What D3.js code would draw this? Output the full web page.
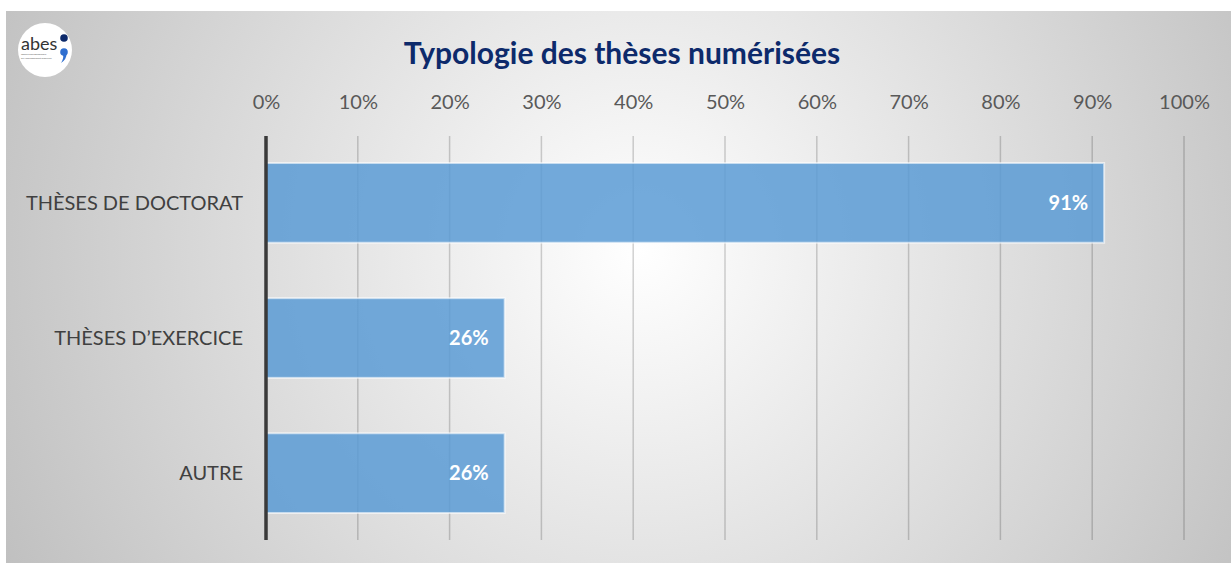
<!DOCTYPE html>
<html>
<head>
<meta charset="utf-8">
<script src="https://cdn.jsdelivr.net/npm/d3@7"></script>
<style>
  html, body { margin: 0; padding: 0; background: #fff; }
  svg text { font-family: Lato, "Open Sans", sans-serif; }
</style>
</head>
<body>
<div id="viz"></div>
<script>
(function() {

    var width = 1231;
    var height = 563;

    // data
    var categories = ["THÈSES DE DOCTORAT", "THÈSES D’EXERCICE", "AUTRE"];
    var values = [0.913, 0.26, 0.26];
    var valueLabels = ["91%", "26%", "26%"];
    var tickValues = [0, 0.1, 0.2, 0.3, 0.4, 0.5, 0.6, 0.7, 0.8, 0.9, 1];
    var title = "Typologie des thèses numérisées";

    var svg = d3.select("#viz")
        .append("svg")
        .attr("width", width)
        .attr("height", height);

    // background gradient
    var defs = svg.append("defs");
    var grad = defs.append("radialGradient")
        .attr("id", "bg")
        .attr("gradientUnits", "userSpaceOnUse")
        .attr("cx", 640).attr("cy", 250).attr("r", 720);
    grad.append("stop").attr("offset", "0%").attr("stop-color", "#ffffff");
    grad.append("stop").attr("offset", "100%").attr("stop-color", "#bfbfbf");

    svg.append("rect")
        .attr("x", 6).attr("y", 11)
        .attr("width", width - 6).attr("height", height - 11)
        .attr("fill", "url(#bg)");

    var margin = {top: 136, left: 266, right: 47, bottom: 23};

    var x = d3.scaleLinear()
        .domain([0, 1])
        .range([margin.left, width - margin.right]);

    var y = d3.scaleBand()
        .domain(categories)
        .range([margin.top, height - margin.bottom])
        .paddingInner(0.41)
        .paddingOuter(0.2);

    // gridlines
    svg.append("g")
        .selectAll("line")
        .data(tickValues.slice(1))
        .enter().append("line")
        .attr("x1", function(d) { return x(d); })
        .attr("x2", function(d) { return x(d); })
        .attr("y1", margin.top)
        .attr("y2", height - margin.bottom)
        .attr("stroke", "rgba(0,0,0,0.18)")
        .attr("stroke-width", 1.5);

    // top axis labels
    var xAxis = d3.axisTop(x)
        .tickValues(tickValues)
        .tickFormat(d3.format(".0%"))
        .tickSize(0);
    var gx = svg.append("g")
        .attr("transform", "translate(0,105)")
        .call(xAxis);
    gx.select(".domain").remove();
    gx.selectAll("text")
        .attr("dy", "0.35em")
        .attr("fill", "#595959")
        .attr("font-size", "20px");

    // bars
    svg.append("g")
        .selectAll("rect")
        .data(values)
        .enter().append("rect")
        .attr("x", x(0))
        .attr("y", function(d, i) { return y(categories[i]); })
        .attr("width", function(d) { return x(d) - x(0); })
        .attr("height", y.bandwidth())
        .attr("fill", "#5b9bd5")
        .attr("fill-opacity", 0.85)
        .attr("stroke", "rgba(255,255,255,0.6)")
        .attr("stroke-width", 2);

    // value labels
    svg.append("g")
        .selectAll("text")
        .data(values)
        .enter().append("text")
        .attr("x", function(d) { return x(d) - 16; })
        .attr("y", function(d, i) { return y(categories[i]) + y.bandwidth() / 2; })
        .attr("dy", "0.35em")
        .attr("text-anchor", "end")
        .attr("fill", "#ffffff")
        .attr("font-weight", "bold")
        .attr("font-size", "20px")
        .text(function(d, i) { return valueLabels[i]; });

    // category labels
    svg.append("g")
        .selectAll("text")
        .data(categories)
        .enter().append("text")
        .attr("x", 243)
        .attr("y", function(d) { return y(d) + y.bandwidth() / 2; })
        .attr("dy", "0.35em")
        .attr("text-anchor", "end")
        .attr("fill", "#404040")
        .attr("font-size", "20px")
        .text(function(d) { return d; });

    // vertical axis line
    svg.append("line")
        .attr("x1", x(0)).attr("x2", x(0))
        .attr("y1", margin.top).attr("y2", height - margin.bottom)
        .attr("stroke", "#3a3a3a")
        .attr("stroke-width", 3.5);

    // title
    svg.append("text")
        .attr("x", 622)
        .attr("y", 53)
        .attr("dy", "0.35em")
        .attr("text-anchor", "middle")
        .attr("fill", "#0d2a6b")
        .attr("font-weight", "bold")
        .attr("font-size", "30px")
        .text(title);

    // logo
    var logo = svg.append("g").attr("transform", "translate(45,50)");
    logo.append("circle").attr("r", 27).attr("fill", "#ffffff");
    logo.append("text")
        .attr("x", -24).attr("y", 0)
        .attr("fill", "#333")
        .attr("font-size", "18px")
        .text("abes");
    logo.append("text")
        .attr("x", -24).attr("y", 5)
        .attr("fill", "#666")
        .attr("font-size", "2.5px")
        .text("agence bibliographique");
    logo.append("text")
        .attr("x", -24).attr("y", 8.5)
        .attr("fill", "#666")
        .attr("font-size", "2.5px")
        .text("de l'enseignement supérieur");
    logo.append("circle").attr("cx", 19).attr("cy", -12).attr("r", 3.8).attr("fill", "#0d2a6b");
    logo.append("circle").attr("cx", 19).attr("cy", 2).attr("r", 3.8).attr("fill", "#2f6fd0");
    logo.append("path")
        .attr("d", "M21.5,3 Q22,9 16,13 Q19,8 18,5 Z")
        .attr("fill", "#2f6fd0");

})();
</script>
</body>
</html>
